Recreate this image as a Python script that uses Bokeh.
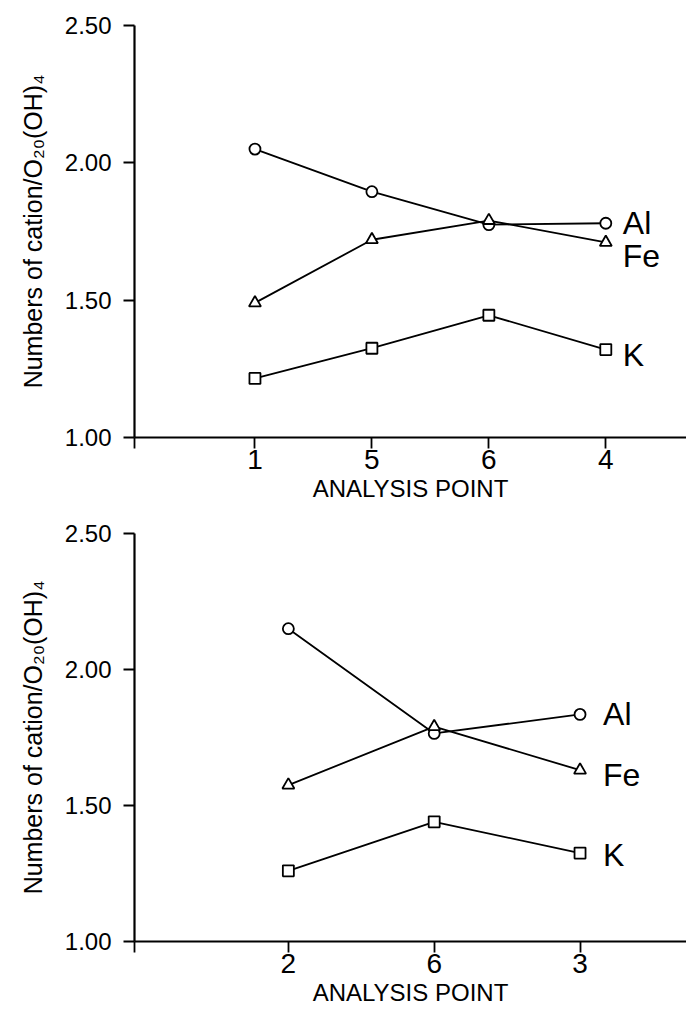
from bokeh.plotting import figure
from bokeh.layouts import column
from bokeh.models import Range1d, FixedTicker, CustomJSTickFormatter, ColumnDataSource
from bokeh.core.properties import value
from bokeh.embed import file_html
from bokeh.resources import INLINE

# ---- data ----
points_top = ["1", "5", "6", "4"]
al_top = [2.05, 1.895, 1.775, 1.78]
fe_top = [1.49, 1.72, 1.79, 1.71]
k_top = [1.215, 1.325, 1.445, 1.32]

points_bot = ["2", "6", "3"]
al_bot = [2.15, 1.765, 1.835]
fe_bot = [1.575, 1.79, 1.63]
k_bot = [1.26, 1.44, 1.325]

series_names = ["Al", "Fe", "K"]
y_ticks = [1.0, 1.5, 2.0, 2.5]

FONT = "Liberation Sans"
YLABEL = "Numbers of cation/O\u2082\u2080(OH)\u2084"


def make_plot(points, al, fe, k, height, border_left, border_top, border_bottom,
              x_start, x_end, label_dx, label_dy):
    p = figure(width=686, height=height, output_backend="svg", toolbar_location=None,
               x_range=Range1d(x_start, x_end), y_range=Range1d(1.0, 2.5),
               min_border_left=border_left, min_border_right=0, min_border_top=border_top,
               min_border_bottom=border_bottom)
    p.outline_line_color = None
    p.grid.visible = False
    xs = list(range(len(points)))

    styles = [("circle", 11), ("triangle", 12), ("square", 11)]
    for vals, (mk, sz) in zip([al, fe, k], styles):
        p.line(xs, vals, line_color="black", line_width=1.8)
        p.scatter(xs, vals, marker=mk, size=sz, fill_color="white",
                  line_color="black", line_width=1.8)

    last = len(points) - 1
    src = ColumnDataSource(dict(x=[last] * 3, y=[al[-1], fe[-1], k[-1]],
                                t=series_names, dy=label_dy))
    p.text(x="x", y="y", text="t", source=src, x_offset=label_dx, y_offset="dy",
           text_font=value(FONT), text_font_size="32px", text_baseline="middle",
           text_align="left", text_color="black")

    # x axis
    xa = p.xaxis[0]
    xa.ticker = FixedTicker(ticks=[x_start] + xs)
    xa.formatter = CustomJSTickFormatter(args=dict(labels=points), code="""
        const i = Math.round(tick);
        if (Math.abs(tick - i) < 1e-6 && i >= 0 && i < labels.length) return labels[i];
        return '';
    """)
    xa.axis_label = "ANALYSIS POINT"
    xa.major_tick_out = 11
    xa.major_tick_in = 0
    xa.minor_tick_out = 0
    xa.minor_tick_in = 0
    xa.major_label_standoff = 1
    xa.axis_label_standoff = 3
    xa.axis_label_text_font_size = "24px"
    xa.major_label_text_font_size = "28px"

    # y axis
    ya = p.yaxis[0]
    ya.ticker = FixedTicker(ticks=y_ticks)
    ya.formatter = CustomJSTickFormatter(code="return tick.toFixed(2);")
    ya.axis_label = YLABEL
    ya.major_tick_out = 11
    ya.major_tick_in = 0
    ya.minor_tick_out = 0
    ya.minor_tick_in = 0
    ya.major_label_standoff = 12
    ya.axis_label_standoff = 15
    ya.axis_label_text_font_size = "25px"
    ya.major_label_text_font_size = "24px"

    for ax in (xa, ya):
        ax.axis_line_width = 2.2
        ax.major_tick_line_width = 1.8
        ax.axis_line_color = "black"
        ax.major_tick_line_color = "black"
        ax.axis_label_text_font = FONT
        ax.major_label_text_font = FONT
        ax.axis_label_text_font_style = "normal"
        ax.axis_label_text_color = "black"
        ax.major_label_text_color = "black"
    return p


p1 = make_plot(points_top, al_top, fe_top, k_top, height=513, border_left=132,
               border_top=25, border_bottom=76, x_start=-1.03, x_end=3.69,
               label_dx=17, label_dy=[0, 14, 5])
p2 = make_plot(points_bot, al_bot, fe_bot, k_bot, height=502, border_left=134,
               border_top=20, border_bottom=74, x_start=-1.055, x_end=2.73,
               label_dx=23, label_dy=[0, 5, 2])

layout = column(p1, p2, spacing=0)
open("out.html", "w").write(file_html(layout, INLINE))
